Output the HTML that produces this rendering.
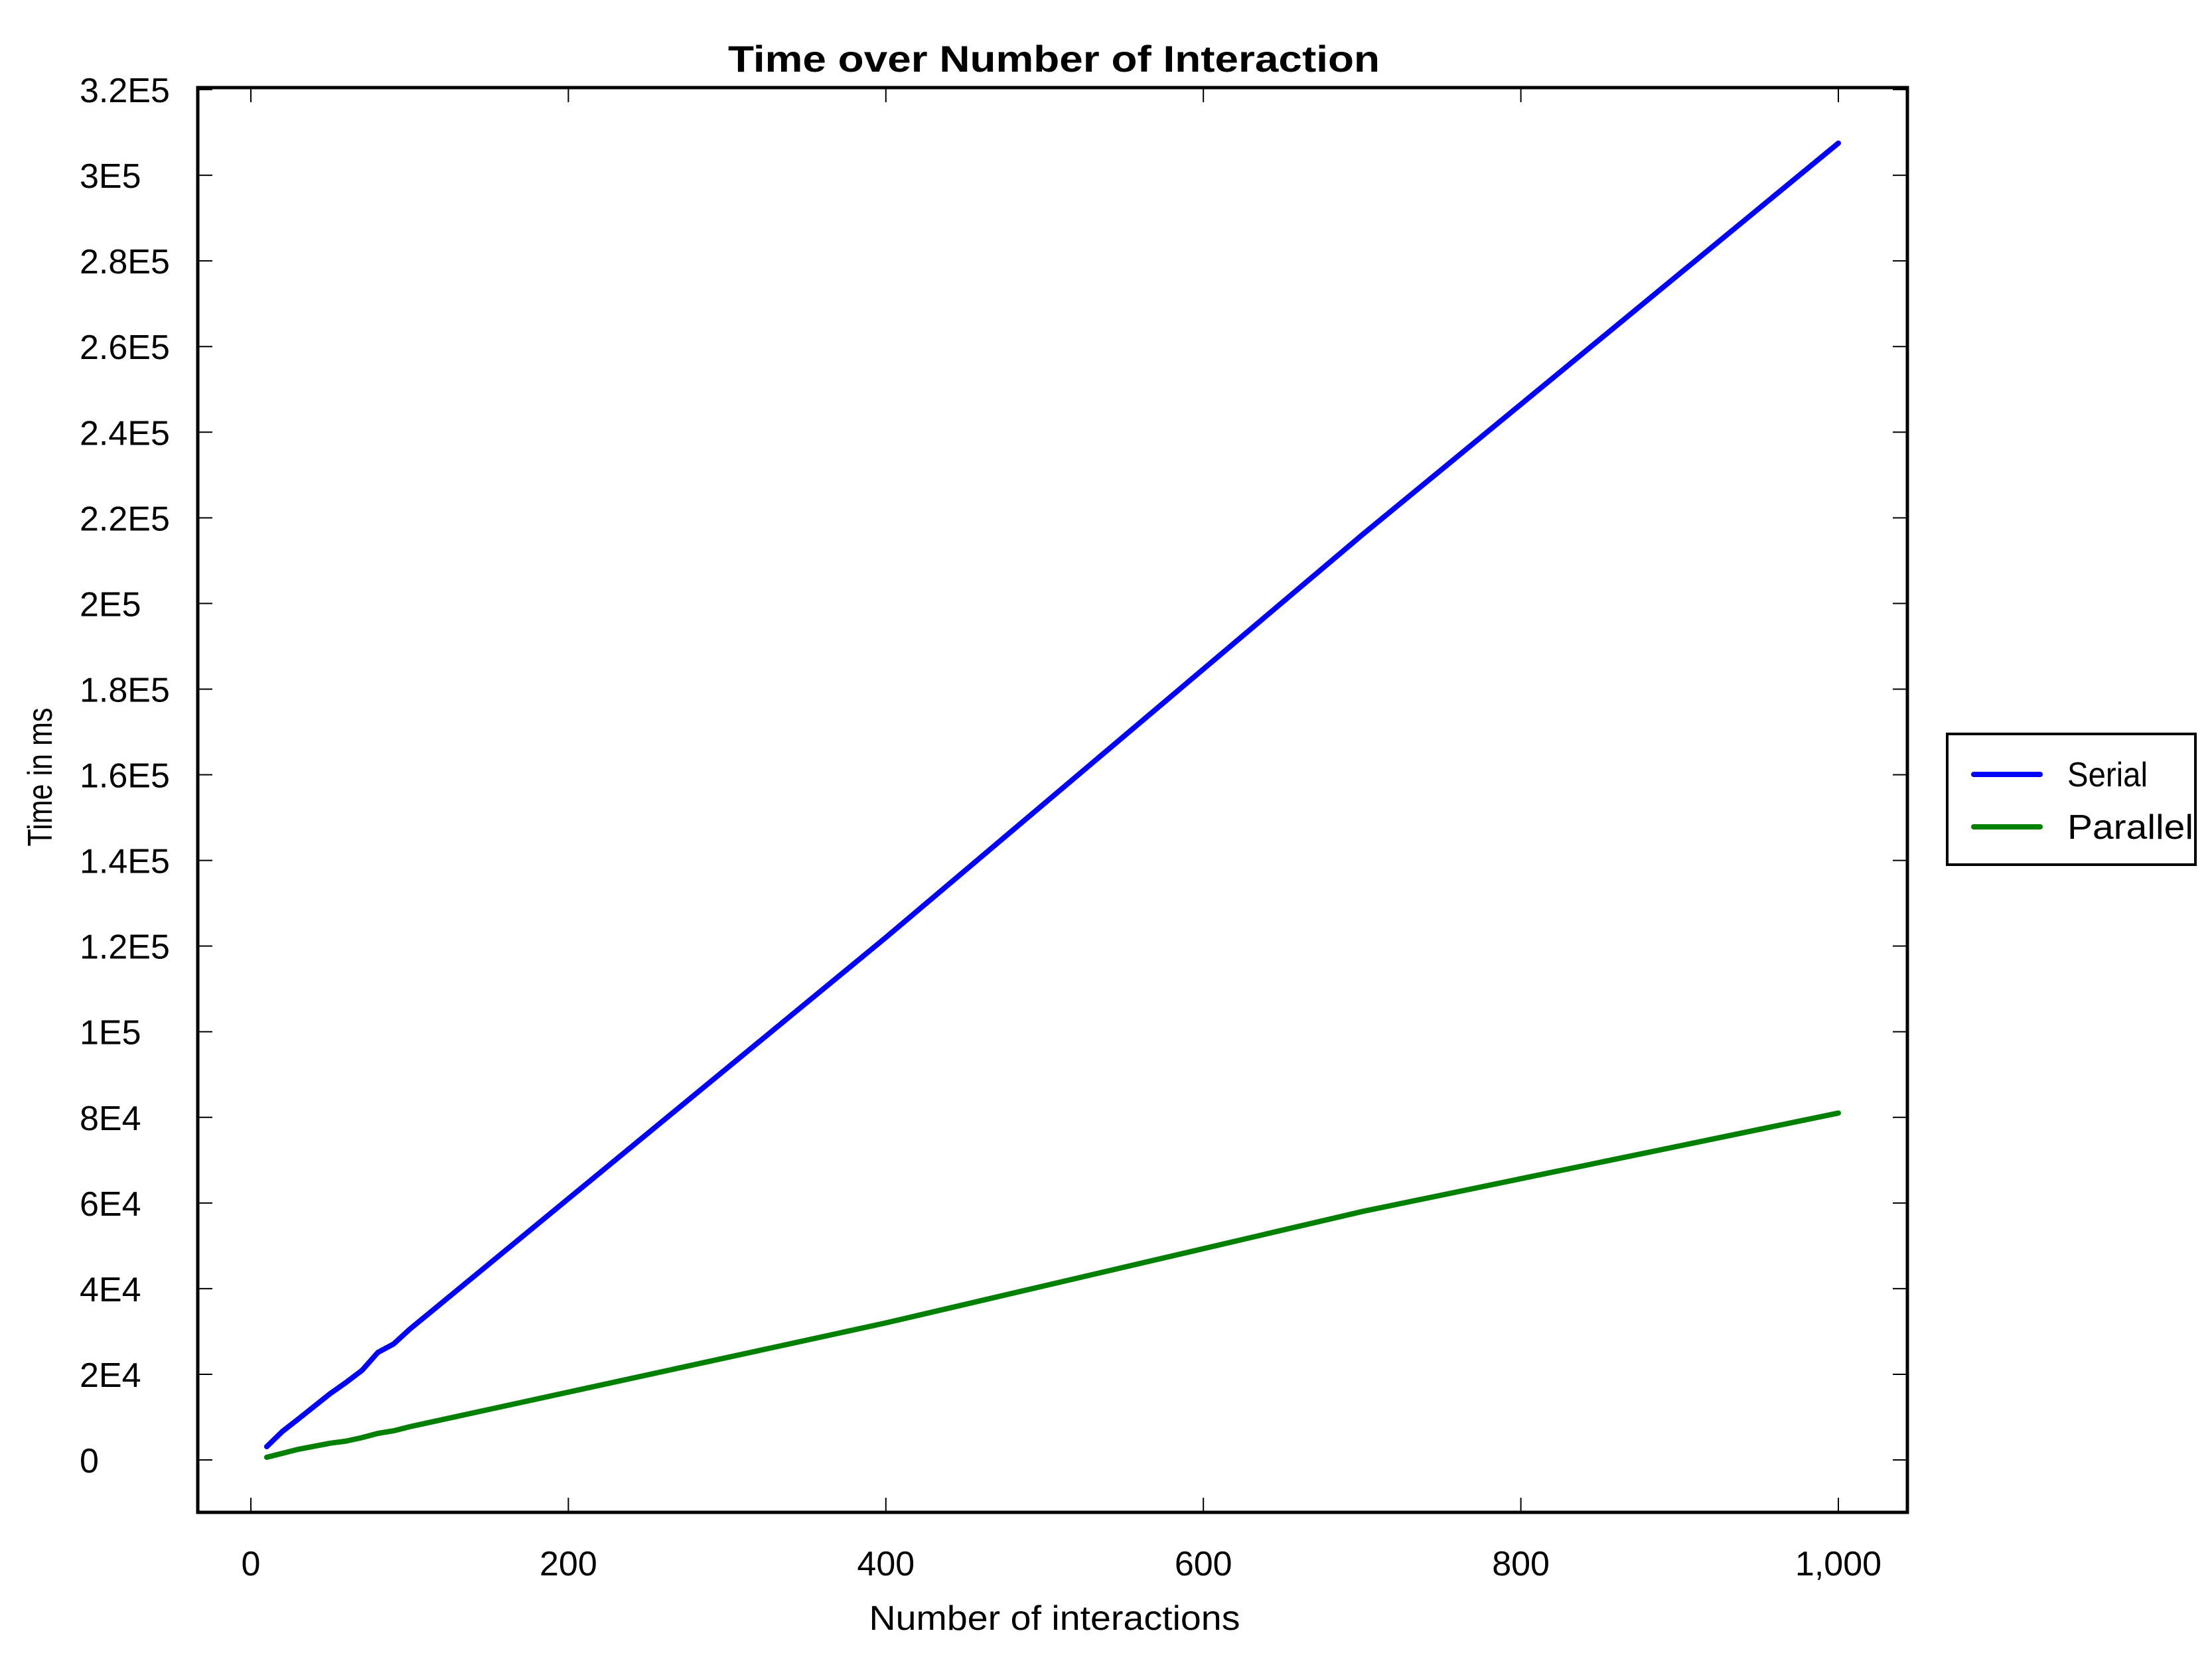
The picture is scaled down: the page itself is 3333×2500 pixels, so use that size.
<!DOCTYPE html>
<html><head><meta charset="utf-8"><style>
html,body{margin:0;padding:0;background:#fff;}
svg{display:block;font-family:"Liberation Sans",sans-serif;}
</style></head><body>
<svg id="chart" width="3333" height="2500" viewBox="0 0 3333 2500" xmlns="http://www.w3.org/2000/svg">
<rect x="0" y="0" width="3333" height="2500" fill="#fff"/>
<text x="1588" y="108" font-size="56" font-weight="bold" text-anchor="middle" textLength="982" lengthAdjust="spacingAndGlyphs">Time over Number of Interaction</text>
<text x="1589" y="2456" font-size="52" text-anchor="middle" textLength="559" lengthAdjust="spacingAndGlyphs">Number of interactions</text>
<text transform="translate(78,1171) rotate(-90)" font-size="52" text-anchor="middle" textLength="209" lengthAdjust="spacingAndGlyphs">Time in ms</text>
<g id="ticks"></g>
<g id="series"></g>
<rect x="298" y="132" width="2576" height="2147" fill="none" stroke="#000" stroke-width="5"/>
<g>
<rect x="2934" y="1106" width="374" height="197" fill="#fff" stroke="#000" stroke-width="4"/>
<line x1="2974" y1="1167" x2="3074" y2="1167" stroke="#0000ff" stroke-width="8" stroke-linecap="round"/>
<text x="3115" y="1185" font-size="52" textLength="121" lengthAdjust="spacingAndGlyphs">Serial</text>
<line x1="2974" y1="1246" x2="3074" y2="1246" stroke="#008000" stroke-width="8" stroke-linecap="round"/>
<text x="3115" y="1264" font-size="52" textLength="190" lengthAdjust="spacingAndGlyphs">Parallel</text>
</g>
</svg>
<script>
const xValues = [10, 20, 30, 50, 60, 70, 80, 90, 100, 400, 700, 1000];
const serialValues = [3100, 6700, 9600, 15500, 18100, 20900, 25100, 27100, 30500, 122000, 216000, 307500];
const parallelValues = [620, 1550, 2500, 3900, 4400, 5200, 6200, 6800, 7750, 32000, 58000, 81000];
const xTicks = [0, 200, 400, 600, 800, 1000];
const xTickLabels = ["0", "200", "400", "600", "800", "1,000"];
const yTicks = [0, 20000, 40000, 60000, 80000, 100000, 120000, 140000, 160000, 180000, 200000, 220000, 240000, 260000, 280000, 300000, 320000];
const yTickLabels = ["0","2E4","4E4","6E4","8E4","1E5","1.2E5","1.4E5","1.6E5","1.8E5","2E5","2.2E5","2.4E5","2.6E5","2.8E5","3E5","3.2E5"];

const NS = "http://www.w3.org/2000/svg";
const L = 298, R = 2874, T = 132, B = 2279;
function xs(v){ return 378 + (v - 0) * (2770 - 378) / 1000; }
function ys(v){ return 2200 - v * (2200 - 135) / 320000; }
function mk(tag, attrs, parent){ const e = document.createElementNS(NS, tag); for (const k in attrs) e.setAttribute(k, attrs[k]); parent.appendChild(e); return e; }

const tg = document.getElementById('ticks');
xTicks.forEach((v, i) => {
  const x = xs(v);
  const t1 = mk('line', {x1:x, y1:B, x2:x, y2:B-22, stroke:'#000', 'stroke-width':2}, tg);
  
  
  const t2 = mk('line', {x1:x, y1:T, x2:x, y2:T+22, stroke:'#000', 'stroke-width':2}, tg);
  
  
  const lb = mk('text', {x:x, y:2374, 'font-size':52, 'text-anchor':'middle'}, tg);
  lb.textContent = xTickLabels[i];
  
  
});
yTicks.forEach((v, i) => {
  const y = ys(v);
  const t1 = mk('line', {x1:L, y1:y, x2:L+22, y2:y, stroke:'#000', 'stroke-width':2}, tg);
  
  
  const t2 = mk('line', {x1:R, y1:y, x2:R-22, y2:y, stroke:'#000', 'stroke-width':2}, tg);
  
  
  const lb = mk('text', {x:120, y:y+19, 'font-size':52}, tg);
  lb.textContent = yTickLabels[i];
  
  
});

const sg = document.getElementById('series');
function line(vals, color, name){
  const pts = xValues.map((x, i) => xs(x).toFixed(1) + ',' + ys(vals[i]).toFixed(1)).join(' ');
  const p = mk('polyline', {points:pts, fill:'none', stroke:color, 'stroke-width':8, 'stroke-linecap':'round', 'stroke-linejoin':'round'}, sg);
  
  
}
line(serialValues, '#0000ff', 'serial-line');
line(parallelValues, '#008000', 'parallel-line');
</script>
</body></html>
